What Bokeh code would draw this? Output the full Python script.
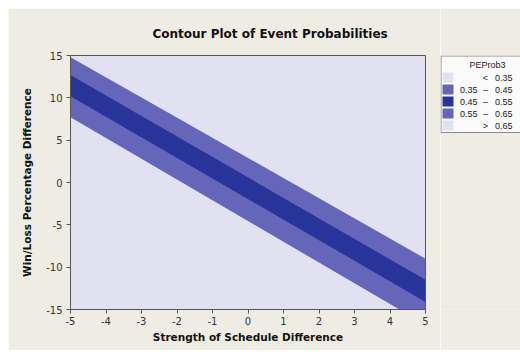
from bokeh.plotting import figure
from bokeh.models import Range1d, FixedTicker, Title, Spacer
from bokeh.layouts import row, column
from bokeh.embed import file_html
from bokeh.resources import INLINE
from bokeh.core.properties import value

# ---- data ----
x_ends = [-5, 5]                 # strength of schedule difference at the plot edges
outer_upper = [14.8, -9.0]       # contour 0.35 / 0.65 (upper edge of outer band)
dark_upper = [12.7, -11.5]       # contour 0.45 / 0.55 (upper edge of dark band)
dark_lower = [10.2, -14.1]       # lower edge of dark band
outer_lower = [7.7, -16.8]       # lower edge of outer band

x_ticks = [-5, -4, -3, -2, -1, 0, 1, 2, 3, 4, 5]
y_ticks = [-15, -10, -5, 0, 5, 10, 15]

legend_title = "PEProb3"
legend_low = ["", "0.35", "0.45", "0.55", ""]
legend_sym = ["<", "\u2013", "\u2013", "\u2013", ">"]
legend_high = ["0.35", "0.45", "0.55", "0.65", "0.65"]

BEIGE = "#EFEDE3"
LIGHT = "#E2E1F1"
MED = "#6566BA"
DARK = "#28349A"
legend_colors = [LIGHT, MED, DARK, MED, LIGHT]

H = 342
TOP, BOTTOM = 47, 41

p = figure(width=432, height=H, x_range=Range1d(-5, 5), y_range=Range1d(-15, 15),
           output_backend="svg", toolbar_location=None,
           min_border_left=62, min_border_right=15, min_border_top=TOP, min_border_bottom=BOTTOM)
p.background_fill_color = LIGHT
p.border_fill_color = BEIGE
p.outline_line_color = "#555555"
p.grid.visible = False

p.varea(x=x_ends, y1=outer_lower, y2=outer_upper, fill_color=MED)
p.varea(x=x_ends, y1=dark_lower, y2=dark_upper, fill_color=DARK)

p.xaxis.ticker = FixedTicker(ticks=x_ticks)
p.yaxis.ticker = FixedTicker(ticks=y_ticks)
p.xaxis.major_label_overrides = {t: str(t) for t in x_ticks}
p.yaxis.major_label_overrides = {t: str(t) for t in y_ticks}
for ax in (p.xaxis[0], p.yaxis[0]):
    ax.axis_line_color = "#555555"
    ax.major_tick_line_color = "#555555"
    ax.major_tick_out = 4
    ax.major_tick_in = 0
    ax.minor_tick_line_color = None
    ax.major_label_text_font = "DejaVu Sans"
    ax.major_label_text_font_size = "10px"
    ax.major_label_text_color = "#333333"
    ax.axis_label_text_font = "DejaVu Sans"
    ax.axis_label_text_font_size = "10.5px"
    ax.axis_label_text_font_style = "bold"
    ax.axis_label_text_color = "#111111"
p.xaxis.axis_label = "Strength of Schedule Difference"
p.yaxis.axis_label = "Win/Loss Percentage Difference"
p.xaxis.major_label_standoff = 3
p.yaxis.major_label_standoff = 4
p.xaxis.axis_label_standoff = 3
p.yaxis.axis_label_standoff = 10

p.title = Title(text="Contour Plot of Event Probabilities", align="left", offset=82,
                text_font="DejaVu Sans", text_font_size="12px", text_font_style="bold",
                text_color="#111111", standoff=30)

# ---- legend panel (frame aligned with main frame; data units = pixels) ----
lg = figure(width=80, height=H, x_range=Range1d(0, 80), y_range=Range1d(H - BOTTOM, TOP),
            output_backend="svg", toolbar_location=None,
            min_border_left=0, min_border_right=0, min_border_top=TOP, min_border_bottom=BOTTOM)
lg.background_fill_color = BEIGE
lg.border_fill_color = BEIGE
lg.axis.visible = False
lg.grid.visible = False
lg.outline_line_color = None

lg.quad(left=0.5, right=120, top=47.5, bottom=124, fill_color="#FBFBFB", line_color="#8A8A8A")
lg.text(x=[47], y=[56], text=[legend_title], text_align="center", text_baseline="middle",
        text_font=value("Liberation Sans"), text_font_size="9px", text_color="#222222")
row_y = [69, 81, 93, 105, 117]
lg.quad(left=[2] * 5, right=[13] * 5, top=[y - 5 for y in row_y], bottom=[y + 5 for y in row_y],
        fill_color=legend_colors, line_color=None)
lg.text(x=[37] * 5, y=row_y, text=legend_low, text_align="right", text_baseline="middle",
        text_font=value("Liberation Sans"), text_font_size="9px", text_color="#222222")
lg.text(x=[45] * 5, y=row_y, text=legend_sym, text_align="center", text_baseline="middle",
        text_font=value("Liberation Sans"), text_font_size="9px", text_color="#222222")
lg.text(x=[72] * 5, y=row_y, text=legend_high, text_align="right", text_baseline="middle",
        text_font=value("Liberation Sans"), text_font_size="9px", text_color="#222222")

layout = row(Spacer(width=8, height=H + 8),
             column(Spacer(width=512, height=8), row(p, lg, spacing=0), spacing=0),
             spacing=0)
open("out.html", "w").write(file_html(layout, INLINE))
